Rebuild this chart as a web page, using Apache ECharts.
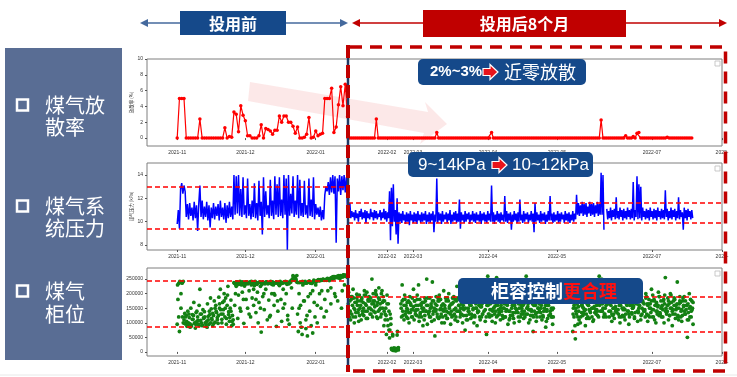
<!DOCTYPE html>
<html>
<head>
<meta charset="utf-8">
<script src="https://cdn.jsdelivr.net/npm/echarts@6/dist/echarts.min.js"></script>
<style>
  html, body { margin: 0; padding: 0; background: #fff; }
  #chart { width: 737px; height: 377px; }
</style>
</head>
<body>
<div id="chart"></div>
<script>
// ---- data ----
// axis ticks
const beforeTickDates = ['2021-11-01T00:00', '2021-12-01T00:00', '2022-01-01T00:00'];
const beforeTickLabels = ['2021-11', '2021-12', '2022-01'];
// the "after" panel is a pasted image with its own (uneven) tick layout
const afterTickDates = ['2022-02-04T15:36', '2022-02-18T10:00', '2022-03-30T03:00', '2022-05-05T14:00', '2022-06-24T22:00', '2022-08-01T00:00'];
const afterTickLabels = ['2022-02', '2022-03', '2022-04', '2022-05', '2022-07', '2022-'];

// gas release rate (%), daily
const rateBeforeStart = '2021-11-01T00:00';
const rateBefore = [
  0, 5, 5, 5, 0, 0, 0, 0, 0, 0,
  2.4, 0, 0, 0, 0, 0, 0, 0, 0, 0,
  0, 1.3, 0, 0.2, 0.1, 3.3, 3.0, 0.8, 4.1, 2.9,
  2.2, 0.3, 0.3, 0, 0, 0, 0.3, 1.7, 0, 1.2,
  1.1, 0.9, 0.5, 1.0, 1.0, 2.8, 2.0, 2.8, 2.8, 2.0,
  2.0, 1.5, 0.6, 1.4, 0, 0, 0.1, 0.5, 2.6, 0,
  0.1, 0.9, 0.3, 0.5, 0.6, 5.0, 5.0, 5.0, 6.3, 0.7,
  1.4, 4.2, 6.5, 4.1, 6.8, 2.7
];
const rateAfterStart = '2022-01-15T00:00';
const rateAfter = [
  0, 0, 0, 0, 0, 0, 0, 0, 0, 0, 0, 0, 0, 0, 0, 2.4, 0, 0, 0, 0,
  0, 0, 0, 0, 0, 0, 0, 0, 0, 0, 0, 0, 0, 0, 0, 0, 0, 0, 0, 0,
  0, 0, 0, 0, 0, 0, 0, 0.7, 0, 0, 0, 0, 0, 0, 0, 0, 0, 0, 0, 0,
  0, 0, 0, 0, 0, 0, 0, 0, 0, 0, 0, 0, 0, 0, 0, 0, 0.7, 0, 0, 0,
  0, 0, 0, 0, 0, 0, 0, 0, 0, 0, 0, 0, 0, 0, 0, 0, 0, 0, 0, 0,
  0, 0, 0, 0, 0, 0, 0, 0, 0, 0, 0, 0, 0, 0, 0, 0, 0, 0, 0, 0,
  0, 0, 0, 0, 0, 0, 0, 0, 0, 0, 0, 0, 0, 0, 2.3, 0, 0, 0, 0, 0,
  0, 0, 0, 0, 0, 0, 0, 0.3, 0, 0, 0, 0.2, 0, 0.6, 0.7, 0, 0, 0, 0, 0,
  0, 0, 0, 0, 0, 0, 0, 0, 0, 0.1, 0, 0, 0, 0, 0, 0, 0, 0, 0, 0,
  0, 0, 0
];

// gas system pressure (kPa), every 12 h
const pressureBeforeStart = '2021-11-01T00:00';
const pressureBefore = [
  9.8,11.0, 9.4,12.8, 13.3,12.4, 13.1,12.6, 10.4,11.5, 10.2,11.6, 10.5,11.2, 10.1,11.7, 10.3,11.4, 9.2,11.5,
  13.1,10.4, 11.8,10.2, 11.3,10.4, 11.7,10.1, 11.4,9.5, 11.2,10.3, 11.6,10.2, 11.3,10.5, 11.5,10.1, 11.8,10.4,
  11.2,10.2, 11.6,9.9, 11.4,10.3, 11.7,10.4, 11.3,10.2, 14.0,10.6, 13.9,10.7, 14.0,10.5, 12.8,10.4, 13.8,10.6,
  11.4,10.3, 13.7,10.5, 11.5,10.2, 11.8,10.4, 13.3,10.3, 11.6,10.1, 13.5,10.5, 11.7,8.9, 13.8,10.4, 12.6,10.6,
  11.4,10.3, 13.6,10.5, 11.8,10.2, 13.9,10.6, 13.2,10.4, 13.8,10.5, 11.9,10.3, 14.0,10.6, 13.7,7.6, 14.0,10.5,
  12.4,10.7, 13.9,10.4, 11.8,10.6, 14.0,10.3, 13.6,10.5, 11.6,10.4, 13.5,10.6, 11.4,10.3, 13.7,10.5, 11.9,10.4,
  13.8,10.2, 11.5,10.6, 11.2,10.4, 11.3,10.1, 11.0,10.2, 12.3,13.0, 12.6,13.4, 12.3,13.8, 12.5,14.0, 12.4,13.9,
  8.2,13.7, 12.6,14.0, 12.3,13.9, 12.7,14.0, 12.5,13.8, 11.0,12.0
];
const pressureAfterStart = '2022-01-15T00:00';
const pressureAfter = [
  12.0,10.6, 11.6,10.3, 10.9,10.4, 10.8,10.1, 11.0,10.3, 10.7,10.0, 10.9,10.4, 11.1,10.2, 10.8,10.3, 11.0,9.9,
  10.9,10.3, 10.7,10.2, 11.1,10.4, 10.8,10.1, 11.0,10.3, 10.9,10.2, 10.7,10.4, 11.0,10.1, 10.8,10.3, 11.1,10.2,
  10.9,10.0, 10.8,10.3, 12.6,8.4, 12.9,9.6, 13.2,10.0, 11.0,8.9, 12.0,8.1, 10.8,10.0, 10.7,9.9, 10.9,10.1,
  10.6,9.8, 10.8,10.0, 10.7,9.7, 10.9,10.1, 10.6,9.9, 10.8,10.0, 10.7,9.8, 10.9,10.1, 10.6,9.9, 10.8,10.0,
  10.7,10.1, 10.9,9.8, 10.6,10.0, 10.8,9.9, 10.7,10.1, 10.9,9.1, 10.6,10.0, 13.7,9.9, 10.8,10.1, 10.7,9.8,
  10.9,10.0, 10.6,10.2, 10.8,9.9, 10.7,10.1, 11.0,9.8, 10.6,10.0, 10.8,10.1, 10.9,9.9, 10.7,10.0, 11.9,9.4,
  10.8,10.1, 10.6,9.9, 10.9,10.0, 10.7,10.2, 10.8,9.8, 10.6,10.1, 10.9,10.0, 10.7,9.9, 10.8,10.1, 10.6,10.0,
  10.9,9.8, 10.7,10.1, 10.8,10.0, 10.6,9.9, 10.9,10.1, 10.7,10.0, 13.1,10.0, 10.8,9.8, 10.6,10.1, 10.9,10.0,
  10.7,9.9, 10.8,10.1, 10.6,10.0, 12.2,10.0, 10.9,9.9, 10.7,10.1, 10.8,9.3, 10.6,10.0, 10.9,10.1, 10.7,9.9,
  10.8,10.0, 11.9,10.1, 10.6,9.9, 10.9,10.0, 10.7,10.2, 10.8,9.9, 10.6,10.1, 10.9,10.0, 10.7,9.1, 11.6,10.0,
  10.8,10.1, 10.6,9.9, 10.9,10.0, 10.7,10.1, 10.8,9.8, 10.6,10.0, 10.9,10.1, 12.2,10.1, 10.7,9.9, 10.8,10.0,
  10.6,10.1, 10.9,9.9, 10.7,10.0, 10.8,10.2, 10.6,9.9, 10.9,10.1, 10.7,10.0, 10.8,9.9, 10.6,10.1, 10.9,10.0,
  10.7,10.2, 12.3,10.6, 11.6,10.5, 11.4,10.7, 11.7,10.5, 11.5,10.6, 11.6,10.4, 11.3,10.7, 11.7,10.5, 11.5,10.6,
  11.6,10.4, 11.4,10.7, 11.7,10.5, 11.5,10.6, 14.2,10.6, 14.0,9.3, null,null, 11.1,10.2, 10.9,10.3, 11.2,10.1,
  11.0,10.4, 11.1,10.2, 12.1,10.3, 10.9,10.2, 11.2,10.4, 11.0,10.1, 11.1,10.3, 10.9,10.2, 11.2,10.4, 11.0,10.2,
  11.1,10.3, 13.4,10.1, 11.0,10.4, 13.9,10.2, 13.2,10.3, 13.0,10.1, 11.2,10.4, 10.9,10.2, 11.1,10.3, 11.0,10.1,
  11.2,10.4, 10.9,10.2, 11.1,10.3, 11.0,10.1, 11.2,10.4, 10.9,10.2, 11.1,10.3, 11.0,10.2, 12.7,10.4, 11.1,10.1,
  10.9,10.3, 11.2,10.2, 11.0,10.4, 11.1,10.1, 10.9,10.3, 12.1,10.2, 11.0,10.4, 10.8,9.3, 11.2,10.3, 11.0,10.1,
  11.1,10.4, 10.9,10.2, 11.0,10.3
];

// gas holder level (thousand m3): one reading every 8 h plus one every 12 h (offset 4 h)
const levelBeforeStart = '2021-11-01T00:00';
const levelBefore = [
  95,180,235, 70,240,150, 238,120,242, 110,132,96, 125,88,140, 100,118,85, 150,92,128, 112,170,98, 82,135,105, 120,95,160,
  215,108,130, 90,145,118, 138,100,88, 105,165,122, 95,128,185, 148,110,90, 125,175,102, 160,135,118, 98,188,150, 215,130,112,
  170,145,200, 120,185,95, 160,225,138, 105,150,178, 90,125,110, 238,160,232, 225,240,115, 195,236,242, 140,230,205, 238,98,226,
  232,180,240, 150,236,210, 240,120,230, 185,238,160, 228,242,135, 236,205,100, 170,240,225, 68,232,190, 238,145,236, 215,240,110,
  234,178,238, 125,236,200, 240,230,160, 195,238,88, 236,140,232, 228,242,180, 105,236,215, 240,165,238, 200,232,125, 238,95,242,
  240,220,150, 262,255,246, 258,248,240, 130,70,200, 238,160,85, 60,230,240, 175,242,110, 236,55,190, 240,140,236, 90,235,210,
  240,170,120, 230,244,100, 246,245,200, 248,150,246, 247,249,120, 180,248,246, 250,210,248, 245,252,165, 255,250,258, 252,200,255,
  258,256,175, 254,260,252, 262,150,258, 258,264,230, 262,260,265, 256,268,240
];
const levelBefore2Start = '2021-11-01T04:00';
const levelBefore2 = [
  230,120, 242,200, 236,100, 98,120, 105,92, 130,96, 88,112, 125,100, 95,140, 108,90,
  130,100, 92,115, 120,96, 85,110, 140,100, 115,132, 98,150, 140,110, 125,165, 145,100,
  130,175, 150,115, 195,128, 118,140, 105,95, 236,200, 240,234, 232,150, 238,240, 180,236,
  240,236, 234,130, 238,242, 236,215, 240,180, 232,238, 238,150, 236,240, 200,234, 240,238,
  236,120, 242,232, 238,200, 236,240, 175,238, 240,234, 236,150, 238,242, 240,110, 234,238,
  245,250, 258,250, 250,262, 238,150, 100,240, 242,175, 236,80, 125,240, 244,200, 238,65,
  246,242, 240,160, 248,244, 246,210, 250,246, 248,140, 252,248, 250,220, 256,254, 258,190,
  256,260, 262,258, 258,210, 264,262, 260,258, 266,262
];
const levelAfterStart = '2022-01-15T00:00';
const levelAfter = [
  150,205,120, 175,110,190, 130,160,215, 185,100,145, 120,170,198, 160,135,105, 195,150,175, 110,185,140, 170,125,210, 140,195,160,
  205,115,180, 150,175,130, 185,145,250, 120,200,165, 175,135,210, 195,160,115, 140,220,180, 165,120,200, 210,150,175, 90,175,130,
  150,60,195, 110,165,75, 48,130,95, 12,8,60, 5,14,6, 10,4,9, 58,12,7, null,null,null, 165,120,230, 140,180,110,
  195,130,160, 120,170,145, 175,100,190, 135,160,120, 185,145,215, 110,175,140, 160,125,195, 145,230,105, 180,135,160, 120,170,90,
  150,110,185, 175,140,250, 95,160,130, 140,185,120, 165,105,240, 130,175,150, 55,140,190, 160,120,175, 115,195,145, 180,130,100,
  145,165,210, 100,150,125, 175,115,185, 135,200,155, 160,95,140, 120,185,170, 190,130,110, 150,175,225, 105,140,160, 180,120,150,
  130,195,100, 160,145,180, 75,170,125, 185,110,150, 140,165,195, 115,130,180, 175,150,100, 125,200,165, 150,90,140, 195,160,120,
  110,175,155, 165,130,215, 140,185,105, 175,60,160, 260,130,190, 120,165,145, 185,105,170, 150,195,130, 100,160,255, 175,125,145,
  135,190,110, 160,140,200, 115,175,150, 195,120,165, 145,160,95, 180,110,140, 125,200,175, 160,135,115, 100,180,150, 170,145,215,
  135,165,105, 190,120,160, 150,175,130, 115,140,185, 175,260,150, 130,165,100, 185,110,145, 145,195,125, 70,160,175, 160,130,105,
  120,185,150, 175,140,195, 135,160,110, 190,120,170, 150,175,85, 105,145,160, 165,125,190, 140,180,120, 120,95,150, null,null,null,
  null,null,null, null,null,null, null,null,null, null,null,null, null,null,null, null,null,null, null,null,null, null,null,null, null,null,null, 70,150,120,
  180,45,140, 130,165,95, 155,110,200, 100,175,135, 165,125,150, 140,195,90, 185,115,165, 120,160,145, 175,135,210, 150,185,105,
  110,155,170, 190,130,145, 140,205,120, 260,165,185, 175,250,140, 150,120,195, 130,180,160, null,null,null, 165,120,200, 140,185,105,
  190,150,130, 115,170,155, 175,135,210, 145,195,120, 100,160,175, 185,125,145, 150,200,110, 130,165,190, 175,140,95, 120,185,160,
  195,130,150, 160,175,115, 135,210,170, 185,105,140, 150,160,225, 110,190,130, 175,145,165, 140,120,200, 190,165,105, 125,180,150,
  165,135,215, 145,195,120, 180,110,160, 100,170,140, 155,205,125, 190,130,175, 120,160,145, 175,100,195, 255,150,130, 140,185,110,
  165,125,200, 195,150,90, 130,175,160, 180,115,145, 150,240,125, 110,165,190, 170,140,105, 125,185,155, 190,130,175, 145,160,50,
  165,110,200, 120,180,140, 175,150,95
];
const levelAfter2Start = '2022-01-15T04:00';
const levelAfter2 = [
  165,135, 140,180, 190,120, 150,170, 135,185, 175,145, 125,160, 180,130, 150,195, 165,115,
  140,175, 190,150, 130,165, 175,140, 155,200, 120,170, 185,145, 150,130, 170,190, 140,110,
  125,165, 90,140, 75,115, 8,55, 10,5, 12,7, 70,15, null,null, 150,175, 125,160,
  180,140, 150,115, 135,170, 165,145, 120,155, 175,130, 145,180, 160,120, 130,165, 150,140,
  170,125, 140,160, 185,135, 120,150, 155,175, 140,110, 165,145, 130,185, 175,120, 150,160,
  120,140, 160,185, 140,115, 175,150, 130,165, 165,125, 145,180, 120,140, 185,160, 140,130,
  165,150, 125,175, 150,110, 175,140, 130,160, 160,120, 145,185, 120,150, 175,135, 140,165,
  155,120, 130,175, 180,145, 120,160, 160,130, 145,180, 125,140, 170,155, 140,120, 160,185,
  130,150, 175,125, 150,165, 120,140, 165,180, 140,115, 185,150, 125,160, 160,135, 145,175,
  120,150, 170,130, 140,160, 165,120, 130,175, 155,145, 180,125, 140,165, 120,140, 160,180,
  135,150, 165,120, 150,175, 125,140, 175,160, 140,115, 160,185, 130,150, 145,120, null,null,
  null,null, null,null, null,null, null,null, null,null, null,null, null,null, null,null, null,null, 130,160,
  90,150, 165,120, 140,175, 120,160, 155,130, 175,145, 130,165, 160,115, 140,180, 120,150,
  170,135, 145,160, 125,185, 160,140, 140,165, 180,130, 150,120, null,null, 140,175, 160,130,
  125,150, 170,140, 145,185, 130,160, 165,120, 150,175, 120,145, 175,160, 140,130, 160,190,
  135,150, 155,120, 180,165, 140,135, 160,175, 125,150, 170,140, 145,185, 130,160, 165,120,
  150,175, 120,145, 175,160, 140,130, 160,190, 135,150, 155,120, 180,165, 140,135, 160,175,
  125,150, 170,140, 145,185, 130,160, 165,120, 150,175, 120,145, 175,160, 140,130, 160,110,
  135,150, 155,120, 145,170
];

// dashed guide levels
const pressureBandBefore = [13, 9.4];
const pressureBandAfter = [11.6, 9.9];
const levelBandBefore = [245000, 85000];
const levelBandAfter = [190000, 70000];

// ---- helpers ----
function ts(s) { return new Date(s).getTime(); }
function build(start, stepHours, vals, k) {
  const t0 = ts(start);
  return vals.map((v, i) => [t0 + i * stepHours * 3600000, v == null ? null : v * k]);
}
function points(start, stepHours, vals, k) {
  return build(start, stepHours, vals, k).filter((d) => d[1] != null);
}
function labelLookup(dates, labels) {
  const times = dates.map(ts);
  return (v) => {
    const i = times.findIndex((t) => Math.abs(t - v) < 60000);
    return i >= 0 ? labels[i] : '';
  };
}

const beforeMin = ts('2021-10-18T17:00');
const beforeMax = ts('2022-01-15T05:00');
const afterMin = ts('2022-01-15T00:00');
const afterMax = ts('2022-08-01T00:00');

const rows = [
  { top: 59, height: 87, min: -1, max: 10, ticks: [0, 2, 4, 6, 8, 10], name: '放散率 (%)' },
  { top: 163, height: 87, min: 7.57, max: 15.03, ticks: [8, 10, 12, 14], name: '煤气压力 (kPa)' },
  { top: 268, height: 88, min: -14000, max: 288000, ticks: [0, 50000, 100000, 150000, 200000, 250000], name: '' }
];

const tickFont = { fontSize: 5, color: '#333', fontFamily: 'Liberation Sans' };

const grids = [], xAxes = [], yAxes = [];
rows.forEach((r, ri) => {
  grids.push({ left: 147, top: r.top, width: 201, height: r.height, show: true, borderColor: '#7f7f7f', borderWidth: 1 });
  grids.push({ left: 348, top: r.top, width: 374, height: r.height, show: true, borderColor: '#7f7f7f', borderWidth: 1 });
  const bt = beforeTickDates.map(ts), at = afterTickDates.map(ts);
  xAxes.push({
    type: 'value', gridIndex: ri * 2, min: beforeMin, max: beforeMax,
    axisLine: { show: false }, splitLine: { show: false },
    axisTick: { show: true, length: 2, lineStyle: { color: '#555' }, customValues: bt },
    axisLabel: Object.assign({ customValues: bt, margin: 4, formatter: labelLookup(beforeTickDates, beforeTickLabels) }, tickFont)
  });
  xAxes.push({
    type: 'value', gridIndex: ri * 2 + 1, min: afterMin, max: afterMax,
    axisLine: { show: false }, splitLine: { show: false },
    axisTick: { show: true, length: 2, lineStyle: { color: '#555' }, customValues: at },
    axisLabel: Object.assign({ customValues: at, margin: 4, hideOverlap: false, formatter: labelLookup(afterTickDates, afterTickLabels) }, tickFont)
  });
  yAxes.push({
    type: 'value', gridIndex: ri * 2, min: r.min, max: r.max,
    axisLine: { show: false }, splitLine: { show: false },
    axisTick: { show: true, length: 2, lineStyle: { color: '#555' }, customValues: r.ticks },
    axisLabel: Object.assign({ customValues: r.ticks, margin: 4, formatter: (v) => String(v) }, tickFont),
    name: r.name, nameLocation: 'middle', nameGap: 13,
    nameTextStyle: { fontSize: 4.5, color: '#333', fontFamily: 'Noto Sans CJK SC' }
  });
  yAxes.push({ type: 'value', gridIndex: ri * 2 + 1, min: r.min, max: r.max, show: false, splitLine: { show: false } });
});

function guide(vals) {
  return {
    silent: true, symbol: 'none', label: { show: false },
    lineStyle: { color: '#ff0000', type: [5, 3], width: 1.5 },
    data: vals.map((v) => ({ yAxis: v }))
  };
}

const rateStyle = {
  type: 'line', symbol: 'circle', symbolSize: 3.5, color: '#ff0000',
  lineStyle: { color: '#ff0000', width: 1.2 }, itemStyle: { color: '#ff0000' }
};
const pressureStyle = {
  type: 'line', showSymbol: false, color: '#0000ff',
  lineStyle: { color: '#0000ff', width: 1.5 }
};
const levelStyle = { type: 'scatter', symbolSize: 3.8, itemStyle: { color: '#138013', opacity: 1 } };

const series = [
  Object.assign({ xAxisIndex: 0, yAxisIndex: 0, data: build(rateBeforeStart, 24, rateBefore, 1) }, rateStyle),
  Object.assign({ xAxisIndex: 1, yAxisIndex: 1, data: build(rateAfterStart, 24, rateAfter, 1) }, rateStyle),
  Object.assign({ xAxisIndex: 2, yAxisIndex: 2, data: build(pressureBeforeStart, 12, pressureBefore, 1), markLine: guide(pressureBandBefore) }, pressureStyle),
  Object.assign({ xAxisIndex: 3, yAxisIndex: 3, data: build(pressureAfterStart, 12, pressureAfter, 1), markLine: guide(pressureBandAfter) }, pressureStyle),
  Object.assign({ xAxisIndex: 4, yAxisIndex: 4, markLine: guide(levelBandBefore),
    data: points(levelBeforeStart, 8, levelBefore, 1000).concat(points(levelBefore2Start, 12, levelBefore2, 1000)) }, levelStyle),
  Object.assign({ xAxisIndex: 5, yAxisIndex: 5, markLine: guide(levelBandAfter),
    data: points(levelAfterStart, 8, levelAfter, 1000).concat(points(levelAfter2Start, 12, levelAfter2, 1000)) }, levelStyle)
];

// ---- slide decorations ----
const CJK = 'Noto Sans CJK SC';
const navy = '#15498a';
const darkRed = '#c00000';

function arrowIcon(x0, cy) {
  return {
    type: 'polygon', z: 110,
    shape: { points: [[x0, cy - 3.5], [x0 + 7, cy - 3.5], [x0 + 7, cy - 7.5], [x0 + 15, cy], [x0 + 7, cy + 7.5], [x0 + 7, cy + 3.5], [x0, cy + 3.5]] },
    style: { fill: '#e8141b', stroke: '#fff', lineWidth: 1.2 }
  };
}
function txt(x, y, text, opts) {
  return {
    type: 'text', x: x, y: y, z: 110,
    style: Object.assign({ text: text, fill: '#fff', fontFamily: CJK, fontSize: 19, align: 'left', verticalAlign: 'middle' }, opts || {})
  };
}
function tri(pts, color) {
  return { type: 'polygon', z: 105, shape: { points: pts }, style: { fill: color } };
}

const sideRows = [
  { y1: 105, y2: 127, l1: '煤气放', l2: '散率' },
  { y1: 206, y2: 228, l1: '煤气系', l2: '统压力' },
  { y1: 291, y2: 314, l1: '煤气', l2: '柜位' }
];

const graphic = [
  // faded trend arrow behind the release-rate curve
  { type: 'polygon', z: 0, shape: { points: [[250, 82], [428, 112], [425, 102], [447, 124], [420, 144], [424, 133], [248, 101]] },
    style: { fill: 'rgba(235,110,110,0.16)' } },
  // left label panel
  { type: 'rect', z: 100, shape: { x: 5, y: 48, width: 117, height: 312 }, style: { fill: '#596d94' } },
  // header arrows
  { type: 'line', z: 104, shape: { x1: 146, y1: 23, x2: 342, y2: 23 }, style: { stroke: '#44699d', lineWidth: 1.5 } },
  tri([[140, 23], [148, 19], [148, 27]], '#44699d'),
  tri([[348, 23], [340, 19], [340, 27]], '#44699d'),
  { type: 'line', z: 104, shape: { x1: 358, y1: 23, x2: 721, y2: 23 }, style: { stroke: darkRed, lineWidth: 1.5 } },
  tri([[352, 23], [360, 19], [360, 27]], darkRed),
  tri([[727, 23], [719, 19], [719, 27]], darkRed),
  { type: 'rect', z: 106, shape: { x: 180, y: 11, width: 106, height: 24 }, style: { fill: navy } },
  txt(233, 23.5, '投用前', { align: 'center', fontSize: 16, fontWeight: 'bold' }),
  { type: 'rect', z: 106, shape: { x: 423, y: 10, width: 203, height: 27 }, style: { fill: darkRed } },
  txt(524.5, 23.5, '投用后8个月', { align: 'center', fontSize: 16, fontWeight: 'bold' }),
  // divider between before / after
  { type: 'line', z: 120, shape: { x1: 348, y1: 45, x2: 348, y2: 372 }, style: { stroke: '#1f3864', lineWidth: 2.5 } },
  { type: 'line', z: 121, shape: { x1: 348, y1: 45, x2: 348, y2: 372 }, style: { stroke: darkRed, lineWidth: 4, lineDash: [13, 7] } },
  // dashed frame around the "after" period
  { type: 'polyline', z: 121, shape: { points: [[350, 47], [725.5, 47], [725.5, 371], [350, 371]] },
    style: { stroke: darkRed, lineWidth: 3.5, lineDash: [12, 8], fill: null } },
  // leftover legend boxes of the pasted charts
  { type: 'rect', z: 101, shape: { x: 715, y: 61, width: 5, height: 5 }, style: { fill: '#fff', stroke: '#bbb', lineWidth: 0.8 } },
  { type: 'rect', z: 101, shape: { x: 715, y: 166, width: 5, height: 5 }, style: { fill: '#fff', stroke: '#bbb', lineWidth: 0.8 } },
  { type: 'rect', z: 101, shape: { x: 715, y: 271, width: 5, height: 5 }, style: { fill: '#fff', stroke: '#bbb', lineWidth: 0.8 } },
  // callout 1
  { type: 'rect', z: 108, shape: { x: 418, y: 59, width: 168, height: 26, r: 5 }, style: { fill: navy } },
  txt(430, 72, '2%~3%', { fontFamily: 'Liberation Sans', fontWeight: 'bold', fontSize: 15 }),
  arrowIcon(483, 72),
  txt(504, 72, '近零放散', { fontSize: 18 }),
  // callout 2
  { type: 'rect', z: 108, shape: { x: 408, y: 152, width: 185, height: 25, r: 5 }, style: { fill: navy } },
  txt(418, 165, '9~14kPa', { fontFamily: 'Liberation Sans', fontSize: 17 }),
  arrowIcon(492, 165),
  txt(512, 165, '10~12kPa', { fontFamily: 'Liberation Sans', fontSize: 17 }),
  // callout 3
  { type: 'rect', z: 108, shape: { x: 458, y: 278, width: 185, height: 26, r: 5 }, style: { fill: navy } },
  txt(563, 291, '柜容控制', { align: 'right', fontSize: 18, fontWeight: 'bold' }),
  txt(563, 291, '更合理', { fontSize: 18, fontWeight: 'bold', fill: '#ff1010' }),
  // faint bottom rule
  { type: 'line', z: 99, shape: { x1: 0, y1: 375, x2: 737, y2: 375 }, style: { stroke: '#e8e8e8', lineWidth: 1 } }
];
sideRows.forEach((r) => {
  graphic.push({ type: 'rect', z: 110, shape: { x: 17, y: r.y1 - 5.5, width: 11, height: 11 }, style: { fill: null, stroke: '#fff', lineWidth: 2.5 } });
  graphic.push(txt(45, r.y1, r.l1, { fontSize: 20 }));
  graphic.push(txt(45, r.y2, r.l2, { fontSize: 20 }));
});

const chart = echarts.init(document.getElementById('chart'), null, { renderer: 'canvas' });
chart.setOption({
  animation: false,
  backgroundColor: '#fff',
  grid: grids,
  xAxis: xAxes,
  yAxis: yAxes,
  series: series,
  graphic: graphic
});
</script>
</body>
</html>
